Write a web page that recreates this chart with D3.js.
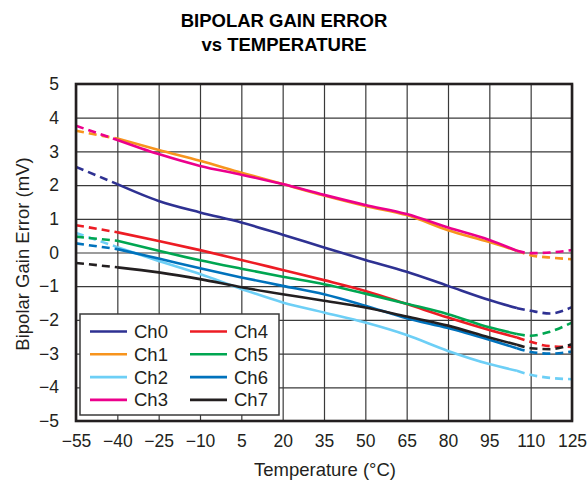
<!DOCTYPE html>
<html><head><meta charset="utf-8">
<script src="https://cdn.jsdelivr.net/npm/d3@7"></script>
<style>body{margin:0;background:#fff}svg{display:block;font-family:"Liberation Sans",Arial,sans-serif}</style>
</head><body><svg id="c" width="588" height="481"></svg>
<script>
const temps = [-55,-40,-25,-10,5,20,35,50,65,80,95,105,110,117,125];
const ch0 = [2.54,2.03,1.53,1.19,0.89,0.53,0.15,-0.22,-0.57,-0.99,-1.41,-1.65,-1.73,-1.81,-1.62];
const ch1 = [3.61,3.38,3.04,2.72,2.37,2.03,1.69,1.38,1.11,0.66,0.31,0.05,-0.08,-0.15,-0.2];
const ch2 = [0.58,0.16,-0.25,-0.64,-1.08,-1.48,-1.78,-2.08,-2.45,-2.92,-3.31,-3.51,-3.63,-3.72,-3.76];
const ch3 = [3.76,3.34,2.92,2.57,2.31,2.03,1.71,1.41,1.14,0.74,0.37,0.05,-0.02,0.0,0.07];
const ch4 = [0.81,0.6,0.34,0.07,-0.22,-0.52,-0.82,-1.14,-1.53,-1.93,-2.3,-2.52,-2.65,-2.78,-2.8];
const ch5 = [0.47,0.35,0.05,-0.23,-0.48,-0.72,-0.94,-1.22,-1.52,-1.83,-2.22,-2.42,-2.47,-2.35,-2.08];
const ch6 = [0.27,0.1,-0.18,-0.47,-0.74,-0.99,-1.24,-1.58,-1.95,-2.24,-2.59,-2.84,-2.95,-3.0,-2.94];
const ch7 = [-0.31,-0.44,-0.59,-0.79,-1.03,-1.24,-1.43,-1.63,-1.9,-2.17,-2.52,-2.74,-2.84,-2.87,-2.72];
const seriesNames = ["Ch0","Ch1","Ch2","Ch3","Ch4","Ch5","Ch6","Ch7"];
const seriesValues = [ch0,ch1,ch2,ch3,ch4,ch5,ch6,ch7];
const seriesColors = ["#2e3192","#f7941d","#6dcff6","#ec008c","#ed1c24","#00a651","#0072bc","#231f20"];
const xTicks = [-55,-40,-25,-10,5,20,35,50,65,80,95,110,125];
const yTicks = [-5,-4,-3,-2,-1,0,1,2,3,4,5];
const solidStart = -40, solidEnd = 105;

const svg = d3.select("#c");
const L=76,R=572,T=84,B=421;
const x = d3.scaleLinear().domain([-55,125]).range([L,R]);
const y = d3.scaleLinear().domain([-5,5]).range([B,T]);
const txt = "#231f20";
const fmt = d => d<0 ? "\u2212"+Math.abs(d) : String(d);

// title
svg.append("text").attr("x",284).attr("y",27).attr("text-anchor","middle")
  .attr("font-size",18.5).attr("font-weight","bold").attr("fill","#000").text("BIPOLAR GAIN ERROR");
svg.append("text").attr("x",284).attr("y",51).attr("text-anchor","middle")
  .attr("font-size",18.5).attr("font-weight","bold").attr("fill","#000").text("vs TEMPERATURE");

// grid
const gx = svg.append("g").attr("transform",`translate(0,${B})`)
  .call(d3.axisBottom(x).tickValues(xTicks).tickSize(-(B-T)).tickFormat(fmt).tickPadding(14));
const gy = svg.append("g").attr("transform",`translate(${L},0)`)
  .call(d3.axisLeft(y).tickValues(yTicks).tickSize(-(R-L)).tickFormat(fmt).tickPadding(17));
[gx,gy].forEach(g=>{
  g.select(".domain").remove();
  g.selectAll(".tick line").attr("stroke","#3a3a3a").attr("stroke-width",1.2);
  g.selectAll(".tick text").attr("font-size",17.5).attr("fill",txt).attr("font-family","Liberation Sans, Arial, sans-serif");
});

// lines
const line = d3.line().x(d=>x(d[0])).y(d=>y(d[1])).curve(d3.curveMonotoneX);
seriesValues.forEach((vals,i)=>{
  const pts = temps.map((t,k)=>[t,vals[k]]);
  const segs = [
    {p: pts.filter(d=>d[0]<=solidStart), dash:"8,5"},
    {p: pts.filter(d=>d[0]>=solidStart && d[0]<=solidEnd), dash:null},
    {p: pts.filter(d=>d[0]>=solidEnd), dash:"8,5"}
  ];
  segs.forEach(s=>{
    svg.append("path").attr("d",line(s.p)).attr("fill","none")
      .attr("stroke",seriesColors[i]).attr("stroke-width",2.6)
      .attr("stroke-dasharray",s.dash);
  });
});

// frame
svg.append("rect").attr("x",L).attr("y",T).attr("width",R-L).attr("height",B-T)
  .attr("fill","none").attr("stroke","#231f20").attr("stroke-width",2.6);

// legend
const lg = svg.append("g");
lg.append("rect").attr("x",80).attr("y",314).attr("width",199).attr("height",101)
  .attr("fill","#fff").attr("stroke","#3a3a3a").attr("stroke-width",1.5);
seriesNames.forEach((n,i)=>{
  const col = Math.floor(i/4), row = i%4;
  const sx = 90 + col*100, sy = 331.5 + row*22.8;
  lg.append("line").attr("x1",sx).attr("x2",sx+37).attr("y1",sy).attr("y2",sy)
    .attr("stroke",seriesColors[i]).attr("stroke-width",2.6);
  lg.append("text").attr("x",sx+44).attr("y",sy+6.5).attr("font-size",18.5).attr("fill",txt).text(n);
});

// axis titles
svg.append("text").attr("x",325).attr("y",476).attr("text-anchor","middle")
  .attr("font-size",18.5).attr("fill",txt).text("Temperature (\u00B0C)");
svg.append("text").attr("transform","translate(23,254) rotate(-90)").attr("text-anchor","middle")
  .attr("dy","0.35em").attr("font-size",18.5).attr("fill",txt).text("Bipolar Gain Error (mV)");
</script></body></html>
